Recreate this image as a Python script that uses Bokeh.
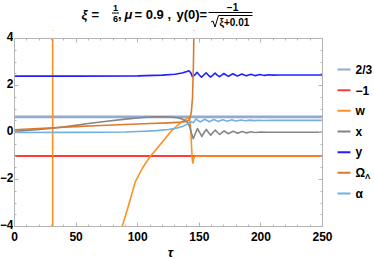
from bokeh.plotting import figure
from bokeh.layouts import column, row
from bokeh.models import (LinearAxis, SingleIntervalTicker, Range1d, Label,
                          CustomJSTickFormatter, BoxAnnotation)
from bokeh.core.properties import value
from bokeh.embed import file_html
from bokeh.resources import INLINE

# ---------------- data ----------------
line_two_thirds = 2 / 3
line_minus_one = -1.0

tau_w = [0, 30.5, 30.9, 31.1, 31.5, 45, 60, 75, 87.4, 92, 98, 104, 110.4, 115,
         121, 127, 133, 137, 140, 141.6, 142.5, 143.3, 143.9, 144.4, 144.8,
         145.5, 146.5, 250]
w_vals = [8, 40, 400, -400, -60, -15, -9, -6, -4, -3.2, -2.1, -1.5, -1.0, -0.72,
          -0.34, 0.05, 0.33, 0.5, 0.6, 0.64, 0.45, -0.1, -0.8, -1.2, -1.3,
          -1.12, -1.0, -1.0]

tau_x = [0, 10, 20, 31, 45, 60, 75, 90, 100, 110, 118, 126, 132, 136, 139, 141,
         142.5, 143.5, 145, 146.8, 148.5, 150.3, 152, 153.9, 155.7, 157.5,
         159.3, 161.1, 163, 164.8, 166.6, 168.4, 170.2, 172, 173.9, 175.7,
         177.5, 179.3, 181.2, 183, 184.8, 186.6, 188.5, 190.3, 192, 194, 196,
         200, 205, 250]
x_vals = [0.05, 0.09, 0.13, 0.18, 0.27, 0.38, 0.48, 0.57, 0.62, 0.66, 0.67,
          0.66, 0.63, 0.58, 0.5, 0.4, 0.2, 0.0, -0.26, -0.05, 0.17, 0.0, -0.17,
          0.0, 0.13, 0.0, -0.12, 0.0, 0.1, 0.0, -0.08, 0.0, 0.07, 0.0, -0.05,
          0.01, 0.05, 0.01, -0.03, 0.01, 0.04, 0.01, -0.015, 0.01, 0.03, 0.01,
          0.0, 0.02, 0.01, 0.01]

tau_y = [0, 50, 100, 120, 130, 136, 140, 141.5, 143, 144.5, 146.3, 148.2, 150,
         151.8, 153.6, 155.5, 157.3, 159.1, 161, 162.8, 164.6, 166.4, 168.2,
         170, 171.8, 173.7, 175.5, 177.3, 179.1, 181, 182.8, 184.6, 186.4,
         188.3, 190.1, 191.9, 193.7, 195.6, 197.4, 199.2, 201, 202.9, 206.5,
         210, 214, 218, 250]
y_vals = [2.40, 2.40, 2.41, 2.44, 2.48, 2.53, 2.60, 2.63, 2.55, 2.37, 2.45,
          2.56, 2.45, 2.35, 2.445, 2.54, 2.445, 2.36, 2.445, 2.53, 2.445, 2.375,
          2.445, 2.51, 2.445, 2.39, 2.445, 2.50, 2.445, 2.40, 2.445, 2.485,
          2.445, 2.41, 2.445, 2.475, 2.445, 2.42, 2.445, 2.465, 2.445, 2.43,
          2.455, 2.44, 2.45, 2.445, 2.445]

tau_om = [0, 15, 31, 50, 70, 90, 110, 125, 135, 140, 142, 143.5, 144.5, 145.2,
          145.7, 146.2, 250]
om_vals = [0.12, 0.16, 0.2, 0.25, 0.3, 0.34, 0.38, 0.41, 0.44, 0.47, 0.55,
           0.85, 1.5, 2.8, 4.5, 9.0, 9.0]

tau_a = [0, 50, 90, 105, 115, 125, 132, 137, 140, 142, 143.5, 145.3, 147.2,
         149, 150.8, 152.7, 154.5, 156.3, 158.1, 160, 161.8, 163.6, 165.4,
         167.3, 169.1, 170.9, 172.7, 174.6, 176.4, 178.2, 180, 183.7, 187.4,
         191, 194.7, 198.3, 202, 210, 250]
a_vals = [0.0, 0.005, 0.02, 0.05, 0.08, 0.13, 0.19, 0.27, 0.35, 0.42, 0.46,
          0.42, 0.58, 0.51, 0.45, 0.51, 0.565, 0.51, 0.46, 0.51, 0.555, 0.51,
          0.47, 0.51, 0.545, 0.51, 0.48, 0.51, 0.54, 0.51, 0.49, 0.53, 0.50,
          0.525, 0.505, 0.52, 0.51, 0.515, 0.515]

x_tick_values = [0, 50, 100, 150, 200, 250]
x_tick_labels = ["0", "50", "100", "150", "200", "250"]
y_tick_values = [-4, -2, 0, 2, 4]
y_tick_labels = ["\u22124", "\u22122", "0", "2", "4"]
x_label = "\u03c4"
legend_labels = ["2/3", "\u22121", "w", "x", "y", "\u03a9", "\u03b1"]

# ---------------- styles / geometry (page pixels) ----------------
C_23 = "#92abd0"
C_M1 = "#ff3b3b"
C_W = "#ff901f"
C_X = "#858585"
C_Y = "#2020ff"
C_OM = "#dc7a2c"
C_A = "#72b0de"
colors = [C_23, C_M1, C_W, C_X, C_Y, C_OM, C_A]
FONT = "Liberation Sans"
AX_COL = "#b4b4b4"

W, H = 374, 259
FL, FR, FT, FB = 14, 322, 38, 226      # data box edges
TITLE_H = 30                            # title strip 0..30
MID_BOTTOM = 231                        # middle row 30..231
LEFT_W = FL - 1
MAIN_W = (FR + 1) - LEFT_W
LEG_W = W - LEFT_W - MAIN_W
MID_H = MID_BOTTOM - TITLE_H
BOT_H = H - MID_BOTTOM
X0, X1, Y0, Y1 = 0, 250, -4, 4
px_per_x = (FR - FL) / (X1 - X0)
px_per_y = (FB - FT) / (Y1 - Y0)

yr = Range1d(Y0 - (MID_BOTTOM - FB) / px_per_y, Y1 + (FT - TITLE_H) / px_per_y)


def clean(fig):
    fig.outline_line_color = None
    fig.xgrid.visible = False
    fig.ygrid.visible = False


# ---------------- main plot ----------------
p = figure(width=MAIN_W, height=MID_H, x_range=Range1d(X0, X1), y_range=yr,
           output_backend="svg", toolbar_location=None, min_border_left=1,
           min_border_right=1, min_border_top=0, min_border_bottom=0)
clean(p)

p.line([X0, X1], [line_two_thirds, line_two_thirds], color=C_23, line_width=2.6)
p.line([X0, X1], [line_minus_one, line_minus_one], color=C_M1, line_width=1.8)
p.line(tau_w, w_vals, color=C_W, line_width=1.6, line_join="round")
p.line(tau_x, x_vals, color=C_X, line_width=1.6, line_join="round")
p.line(tau_y, y_vals, color=C_Y, line_width=1.6, line_join="round")
p.line(tau_om, om_vals, color=C_OM, line_width=1.6, line_join="round")
p.line(tau_a, a_vals, color=C_A, line_width=1.6, line_join="round")

# white masks outside the data box (lines are cut at the frame, as in the reference)
for kw in (dict(bottom=Y1, top=yr.end), dict(bottom=yr.start, top=Y0)):
    p.add_layout(BoxAnnotation(left=X0, right=X1, fill_color="white",
                               fill_alpha=1, line_color=None, level="guide",
                               **kw))

ax_bottom = p.below[0]
ax_left = p.left[0]
ax_top = LinearAxis()
ax_right = LinearAxis()
p.add_layout(ax_top, "above")
p.add_layout(ax_right, "right")
blank = CustomJSTickFormatter(code="return ''")
for ax in (ax_bottom, ax_top):
    ax.ticker = SingleIntervalTicker(interval=50, num_minor_ticks=5)
for ax in (ax_left, ax_right):
    ax.ticker = SingleIntervalTicker(interval=2, num_minor_ticks=4)
    ax.bounds = (Y0, Y1)
ax_bottom.fixed_location = Y0
ax_top.fixed_location = Y1
for ax in (ax_bottom, ax_top, ax_left, ax_right):
    ax.level = "overlay"
    ax.axis_line_color = AX_COL
    ax.major_tick_line_color = AX_COL
    ax.minor_tick_line_color = AX_COL
    ax.major_tick_in = 4
    ax.major_tick_out = 0
    ax.minor_tick_in = 2
    ax.minor_tick_out = 0
    ax.formatter = blank
    ax.major_label_text_font_size = "0px"
    ax.major_label_standoff = 0

# ---------------- left tick labels (same y scale as the plot) ----------------
lf = figure(width=LEFT_W, height=MID_H, x_range=Range1d(0, LEFT_W), y_range=yr,
            output_backend="svg", toolbar_location=None, min_border=0,
            x_axis_location=None, y_axis_location=None)
clean(lf)
lf.text(x=[LEFT_W] * len(y_tick_values), y=y_tick_values, text=y_tick_labels,
        text_font=value(FONT), text_font_size="12px", text_font_style="bold",
        text_align="right", text_baseline="middle", text_color="black",
        y_offset=-2)

# ---------------- bottom tick labels + axis title (same x scale) -------------
bf = figure(width=W, height=BOT_H,
            x_range=Range1d(X0 - FL / px_per_x, X0 + (W - FL) / px_per_x),
            y_range=Range1d(BOT_H, 0), output_backend="svg",
            toolbar_location=None, min_border=0, x_axis_location=None,
            y_axis_location=None)
clean(bf)
bf.text(x=x_tick_values, y=[236 - MID_BOTTOM] * len(x_tick_values),
        text=x_tick_labels, text_font=value(FONT), text_font_size="12px",
        text_font_style="bold", text_align="center", text_baseline="middle",
        text_color="black")
bf.add_layout(Label(x=(170 - FL) / px_per_x, y=251.5 - MID_BOTTOM,
                    text=x_label, text_font=FONT, text_font_size="13px",
                    text_font_style="bold italic", text_align="center",
                    text_baseline="middle", text_color="black"))

# ---------------- legend panel (page pixel coordinates) ----------------
x_off = LEFT_W + MAIN_W
lg = figure(width=LEG_W, height=MID_H, x_range=Range1d(x_off, W),
            y_range=Range1d(MID_BOTTOM, TITLE_H), output_backend="svg",
            toolbar_location=None, min_border=0, x_axis_location=None,
            y_axis_location=None)
clean(lg)
row_y = [69, 89.7, 110.3, 131, 151.7, 172.3, 193]
lg.segment(x0=[337] * 7, y0=row_y, x1=[350] * 7, y1=row_y, color=colors,
           line_width=2)
lg.text(x=[355] * 7, y=row_y, text=legend_labels, text_font=value(FONT),
        text_font_size="12px", text_font_style="bold",
        text_baseline="middle", text_color="black")
lg.add_layout(Label(x=364.5, y=176, text="\u039b", text_font=FONT,
                    text_font_size="8px", text_font_style="bold",
                    text_baseline="middle", text_color="black"))

# ---------------- title strip (page pixel coordinates) ----------------
t = figure(width=W, height=TITLE_H, x_range=Range1d(0, W),
           y_range=Range1d(TITLE_H, 0), output_backend="svg",
           toolbar_location=None, min_border=0, x_axis_location=None,
           y_axis_location=None)
clean(t)


def lab(text, xa, ya, size, style="bold", align="left"):
    t.add_layout(Label(x=xa, y=ya, text=text, text_font=FONT,
                       text_font_size=f"{size}px", text_font_style=style,
                       text_align=align, text_baseline="middle",
                       text_color="black"))


lab("\u03be", 81, 13.5, 13, "bold italic")
lab("=", 91, 13.5, 13)
lab("1", 115, 7, 9, align="center")
lab("6", 115, 18.5, 9, align="center")
lab(",", 117.5, 13.5, 13)
lab("\u03bc", 124, 13.5, 13, "bold italic")
lab("= 0.9 ,", 134, 13.5, 13)
lab("y(0)=", 176, 13.5, 13)
lab("\u22121", 232, 6, 10, align="center")
lab("\u03be+0.01", 219, 21.5, 10)
t.segment(x0=[111.5, 208, 210.5, 212.5, 214.5, 218],
          y0=[12.5, 12, 21.5, 20.5, 26.5, 15],
          x1=[118.5, 252, 212.5, 214.5, 218, 252],
          y1=[12.5, 12, 20.5, 26.5, 15, 15],
          color="black", line_width=1)

layout = column(t, row(lf, p, lg), bf)
open("out.html", "w").write(file_html(layout, INLINE))
